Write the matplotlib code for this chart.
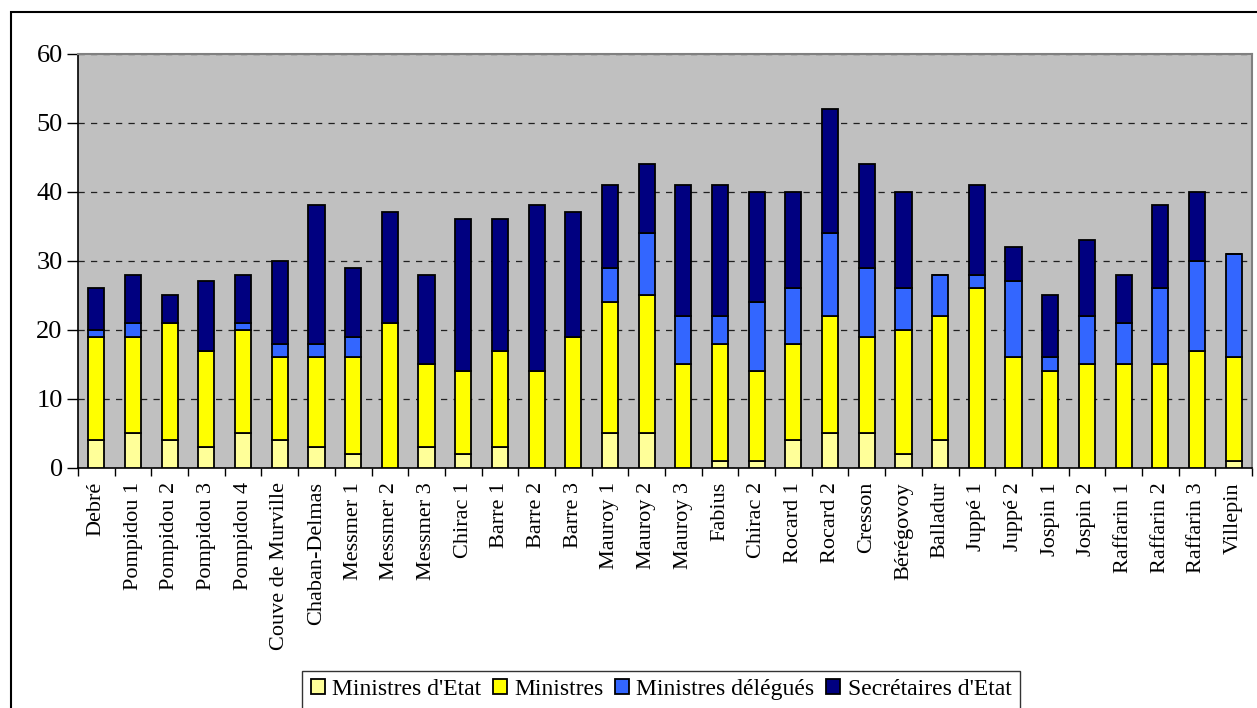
import matplotlib
matplotlib.use("Agg")
import matplotlib.pyplot as plt
from matplotlib.patches import Rectangle
import numpy as np

plt.rcParams['font.family'] = ['Liberation Serif', 'DejaVu Serif']

governments = ["Debré", "Pompidou 1", "Pompidou 2", "Pompidou 3", "Pompidou 4",
               "Couve de Murville", "Chaban-Delmas", "Messmer 1", "Messmer 2", "Messmer 3",
               "Chirac 1", "Barre 1", "Barre 2", "Barre 3", "Mauroy 1", "Mauroy 2",
               "Mauroy 3", "Fabius", "Chirac 2", "Rocard 1", "Rocard 2", "Cresson",
               "Bérégovoy", "Balladur", "Juppé 1", "Juppé 2", "Jospin 1", "Jospin 2",
               "Raffarin 1", "Raffarin 2", "Raffarin 3", "Villepin"]

ministres_etat = [4, 5, 4, 3, 5, 4, 3, 2, 0, 3, 2, 3, 0, 0, 5, 5,
                  0, 1, 1, 4, 5, 5, 2, 4, 0, 0, 0, 0, 0, 0, 0, 1]
ministres = [15, 14, 17, 14, 15, 12, 13, 14, 21, 12, 12, 14, 14, 19, 19, 20,
             15, 17, 13, 14, 17, 14, 18, 18, 26, 16, 14, 15, 15, 15, 17, 15]
ministres_delegues = [1, 2, 0, 0, 1, 2, 2, 3, 0, 0, 0, 0, 0, 0, 5, 9,
                      7, 4, 10, 8, 12, 10, 6, 6, 2, 11, 2, 7, 6, 11, 13, 15]
secretaires_etat = [6, 7, 4, 10, 7, 12, 20, 10, 16, 13, 22, 19, 24, 18, 12, 10,
                    19, 19, 16, 14, 18, 15, 14, 0, 13, 5, 9, 11, 7, 12, 10, 0]

series = [("Ministres d'Etat", ministres_etat, "#FFFF99"),
          ("Ministres", ministres, "#FFFF00"),
          ("Ministres délégués", ministres_delegues, "#3366FF"),
          ("Secrétaires d'Etat", secretaires_etat, "#000080")]

fig = plt.figure(figsize=(12.57, 7.08), dpi=100)
ax = fig.add_axes([78/1257, (708-468)/708, (1252-78)/1257, (468-53.5)/708])
ax.set_facecolor("#C0C0C0")

x = np.arange(len(governments))
bottom = np.zeros(len(governments))
handles = []
for name, vals, col in series:
    v = np.array(vals, dtype=float)
    b = ax.bar(x, v, bottom=bottom, width=0.44, color=col, edgecolor="black",
               linewidth=1.3, label=name, zorder=3)
    handles.append(b)
    bottom += v

ax.set_xlim(-0.5, len(governments) - 0.5)
ax.set_ylim(0, 60)
ax.set_yticks(np.arange(0, 61, 10))
ax.tick_params(axis='y', labelsize=19, length=8, width=1, direction='out', pad=3)
ax.yaxis.grid(True, color="#202020", linestyle=(0, (5, 5)), linewidth=0.9, zorder=0)
ax.set_axisbelow(True)

ax.set_xticks(x)
ax.set_xticklabels(governments, rotation=90, fontsize=16)
ax.tick_params(axis='x', which='major', length=0, pad=10)
ax.set_xticks(np.arange(-0.5, len(governments), 1), minor=True)
ax.tick_params(axis='x', which='minor', length=6, width=1, direction='out')

for s in ['top', 'right']:
    ax.spines[s].set_color("#808080")
    ax.spines[s].set_linewidth(1.5)
for s in ['left', 'bottom']:
    ax.spines[s].set_color("black")
    ax.spines[s].set_linewidth(1.2)

leg = fig.legend(handles=handles, labels=[s[0] for s in series],
                 loc="upper center", bbox_to_anchor=(661/1257, (708-671)/708), ncol=4,
                 fontsize=17, frameon=True, fancybox=False, edgecolor="black",
                 handlelength=0.6, handleheight=0.6, handletextpad=0.3,
                 columnspacing=0.5, borderpad=0.35, borderaxespad=0)
leg.get_frame().set_linewidth(1.0)

border = Rectangle((11/1257, -0.05), 1.2, (708-12)/708 + 0.05, transform=fig.transFigure,
                   fill=False, edgecolor="black", linewidth=1.5, zorder=-1)
fig.patches.append(border)

fig.savefig("out.png", dpi=100)
